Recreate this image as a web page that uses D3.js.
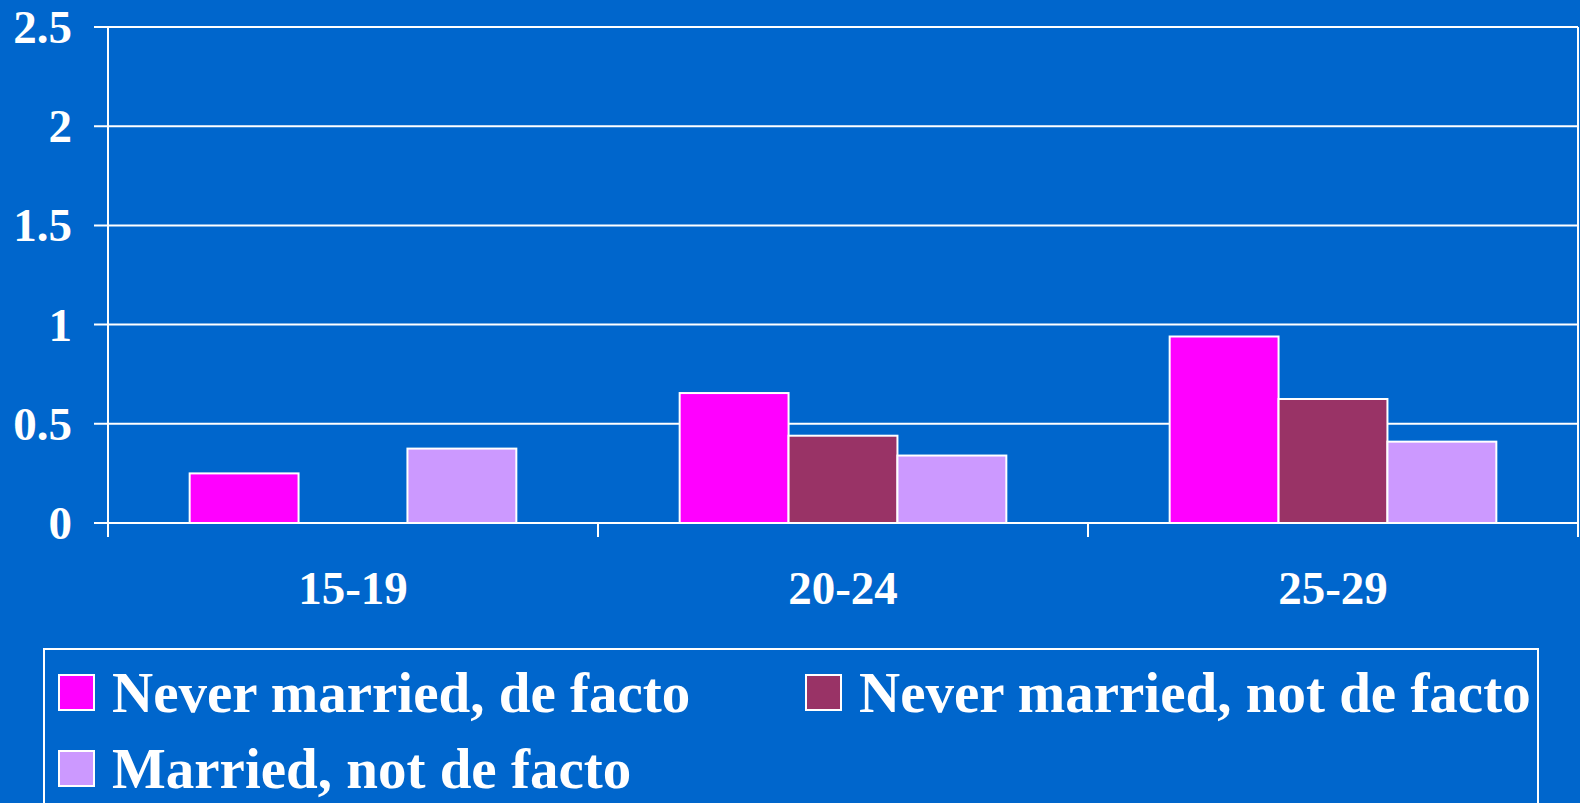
<!DOCTYPE html>
<html>
<head>
<meta charset="utf-8">
<script src="https://cdn.jsdelivr.net/npm/d3@7"></script>
<style>
  html, body { margin: 0; padding: 0; background: #0066cc; }
  svg { display: block; }
  text { font-family: "Liberation Serif", "Times New Roman", serif; font-weight: bold; fill: #fff; }
</style>
</head>
<body>
<script>
(function () {
  "use strict";
  var width = 1580, height = 803;

  // data
  var categories = ["15-19", "20-24", "25-29"];
  var seriesNames = ["Never married, de facto", "Never married, not de facto", "Married, not de facto"];
  var seriesColors = ["#ff00ff", "#993366", "#cc99ff"];
  var neverDeFacto = [0.25, 0.655, 0.94];
  var neverNotDeFacto = [0, 0.44, 0.625];
  var marriedNotDeFacto = [0.375, 0.34, 0.41];
  var yTicks = [0, 0.5, 1, 1.5, 2, 2.5];

  var seriesValues = [neverDeFacto, neverNotDeFacto, marriedNotDeFacto];

  var left = 108, right = 1578, top = 27, bottom = 523;

  var svg = d3.select("body").append("svg")
    .attr("width", width)
    .attr("height", height);

  svg.append("rect")
    .attr("width", width)
    .attr("height", height)
    .attr("fill", "#0066cc");

  var x = d3.scaleBand().domain(categories).range([left, right]);
  var xs = d3.scaleBand().domain(d3.range(seriesNames.length))
    .range([0, x.bandwidth()]).paddingOuter(0.75);
  var y = d3.scaleLinear().domain([0, 2.5]).range([bottom, top]);

  // gridlines + y ticks
  svg.selectAll(".grid")
    .data(yTicks)
    .enter().append("line")
    .attr("class", "grid")
    .attr("x1", left - 14)
    .attr("x2", right)
    .attr("y1", function (d) { return y(d); })
    .attr("y2", function (d) { return y(d); })
    .attr("stroke", "#fff")
    .attr("stroke-width", 2);

  svg.selectAll(".ylab")
    .data(yTicks)
    .enter().append("text")
    .attr("class", "ylab")
    .attr("x", 72)
    .attr("y", function (d) { return y(d) + 16; })
    .attr("text-anchor", "end")
    .attr("font-size", 47)
    .text(function (d) { return d; });

  // axes frame
  svg.append("line")
    .attr("x1", left).attr("x2", left)
    .attr("y1", top).attr("y2", bottom + 14)
    .attr("stroke", "#fff").attr("stroke-width", 2);
  svg.append("line")
    .attr("x1", right).attr("x2", right)
    .attr("y1", top).attr("y2", bottom + 14)
    .attr("stroke", "#fff").attr("stroke-width", 2);

  // category ticks below axis
  svg.selectAll(".xtick")
    .data(categories.slice(1))
    .enter().append("line")
    .attr("class", "xtick")
    .attr("x1", function (d) { return x(d); })
    .attr("x2", function (d) { return x(d); })
    .attr("y1", bottom)
    .attr("y2", bottom + 14)
    .attr("stroke", "#fff").attr("stroke-width", 2);

  svg.selectAll(".xlab")
    .data(categories)
    .enter().append("text")
    .attr("class", "xlab")
    .attr("x", function (d) { return x(d) + x.bandwidth() / 2; })
    .attr("y", 604)
    .attr("text-anchor", "middle")
    .attr("font-size", 47)
    .text(function (d) { return d; });

  // bars
  seriesValues.forEach(function (vals, s) {
    svg.selectAll(".bar-" + s)
      .data(vals.map(function (v, i) { return { cat: categories[i], v: v }; })
        .filter(function (d) { return d.v > 0; }))
      .enter().append("rect")
      .attr("class", "bar-" + s)
      .attr("x", function (d) { return x(d.cat) + xs(s); })
      .attr("y", function (d) { return y(d.v); })
      .attr("width", xs.bandwidth())
      .attr("height", function (d) { return y(0) - y(d.v); })
      .attr("fill", seriesColors[s])
      .attr("stroke", "#fff")
      .attr("stroke-width", 2);
  });

  // legend
  svg.append("rect")
    .attr("x", 44).attr("y", 649)
    .attr("width", 1494).attr("height", 220)
    .attr("fill", "none")
    .attr("stroke", "#fff").attr("stroke-width", 2);

  var legendPos = [[59, 675], [806, 675], [59, 751]];
  var items = svg.selectAll(".leg")
    .data(seriesNames)
    .enter().append("g")
    .attr("class", "leg")
    .attr("transform", function (d, i) {
      return "translate(" + legendPos[i][0] + "," + legendPos[i][1] + ")";
    });
  items.append("rect")
    .attr("width", 35).attr("height", 35)
    .attr("fill", function (d, i) { return seriesColors[i]; })
    .attr("stroke", "#fff").attr("stroke-width", 2);
  items.append("text")
    .attr("x", 53)
    .attr("y", 37)
    .attr("font-size", 57)
    .text(function (d) { return d; });
})();
</script>
</body>
</html>
